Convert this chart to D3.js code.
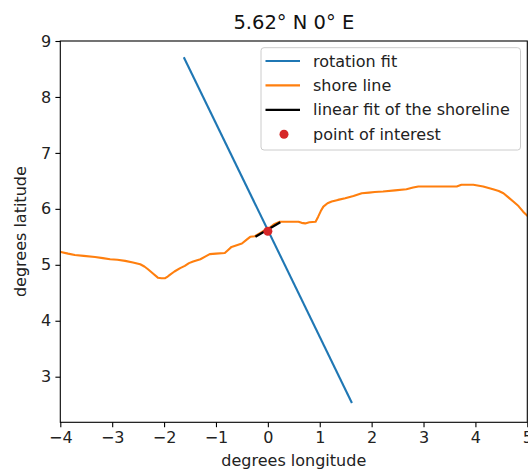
<!DOCTYPE html>
<html>
<head>
<meta charset="utf-8">
<script src="https://cdn.jsdelivr.net/npm/d3@7"></script>
<style>
html,body{margin:0;padding:0;background:#fff;}
svg{display:block;font-family:"DejaVu Sans",sans-serif;}
</style>
</head>
<body>
<svg id="chart" width="528" height="472"></svg>
<script>
// ---- data ----
const titleText = "5.62° N 0° E";
const xTicks = [-4, -3, -2, -1, 0, 1, 2, 3, 4, 5];
const yTicks = [3, 4, 5, 6, 7, 8, 9];
const shoreLon = [-4.05, -3.99, -3.85, -3.72, -3.55, -3.33, -3.18, -3.04, -2.90, -2.75, -2.60, -2.46, -2.38, -2.31, -2.22, -2.12, -2.05, -1.98, -1.93, -1.89, -1.80, -1.69, -1.60, -1.52, -1.44, -1.30, -1.20, -1.12, -1.00, -0.83, -0.76, -0.70, -0.60, -0.50, -0.42, -0.34, -0.25, -0.11, 0.00, 0.13, 0.23, 0.40, 0.59, 0.65, 0.72, 0.80, 0.92, 0.97, 1.02, 1.07, 1.15, 1.23, 1.35, 1.49, 1.65, 1.81, 1.95, 2.06, 2.22, 2.45, 2.67, 2.80, 2.90, 3.20, 3.45, 3.64, 3.73, 3.85, 3.96, 4.15, 4.34, 4.45, 4.54, 4.63, 4.73, 4.83, 4.92, 5.02, 5.10];
const shoreLat = [5.24, 5.23, 5.20, 5.175, 5.16, 5.14, 5.12, 5.10, 5.09, 5.07, 5.04, 5.01, 4.97, 4.92, 4.85, 4.77, 4.76, 4.76, 4.79, 4.82, 4.88, 4.94, 4.98, 5.03, 5.06, 5.10, 5.15, 5.19, 5.20, 5.21, 5.27, 5.32, 5.35, 5.38, 5.44, 5.50, 5.51, 5.59, 5.64, 5.73, 5.77, 5.77, 5.77, 5.75, 5.74, 5.76, 5.77, 5.86, 5.96, 6.04, 6.10, 6.13, 6.16, 6.19, 6.23, 6.28, 6.29, 6.30, 6.31, 6.33, 6.35, 6.38, 6.40, 6.40, 6.40, 6.40, 6.43, 6.43, 6.43, 6.40, 6.35, 6.32, 6.28, 6.21, 6.13, 6.05, 5.95, 5.86, 5.76];
const rotLon = [-1.62, 1.62];
const rotLat = [8.71, 2.53];
const fitLon = [-0.24, 0.24];
const fitLat = [5.50, 5.76];
const poiLon = [0];
const poiLat = [5.60];
const legendLabels = ["rotation fit", "shore line", "linear fit of the shoreline", "point of interest"];
const colors = {rot: "#1f77b4", shore: "#ff7f0e", fit: "#000000", poi: "#d62728"};

// ---- layout ----
const svg = d3.select("#chart");
const L = 60.3, R = 527.3, T = 41, B = 422.3;
const FS = 16, TFS = 19.5;
const x = d3.scaleLinear().domain([-4, 5]).range([L, R]);
const y = d3.scaleLinear().domain([2.185, 9]).range([B, T]);

svg.append("defs").append("clipPath").attr("id", "clip")
  .append("rect").attr("x", L).attr("y", T).attr("width", R - L).attr("height", B - T);

const plot = svg.append("g").attr("clip-path", "url(#clip)");
const line = d3.line().x(d => x(d[0])).y(d => y(d[1]));

plot.append("path").datum(rotLon.map((v, i) => [v, rotLat[i]]))
  .attr("d", line).attr("fill", "none").attr("stroke", colors.rot).attr("stroke-width", 2.1);
plot.append("path").datum(shoreLon.map((v, i) => [v, shoreLat[i]]))
  .attr("d", line).attr("fill", "none").attr("stroke", colors.shore).attr("stroke-width", 2.1)
  .attr("stroke-linejoin", "round");
plot.append("path").datum(fitLon.map((v, i) => [v, fitLat[i]]))
  .attr("d", line).attr("fill", "none").attr("stroke", colors.fit).attr("stroke-width", 2.3);
plot.selectAll("circle.poi").data(poiLon.map((v, i) => [v, poiLat[i]])).join("circle")
  .attr("class", "poi").attr("cx", d => x(d[0])).attr("cy", d => y(d[1])).attr("r", 4.5)
  .attr("fill", colors.poi);

// ---- axes ----
const fmt = d => d3.format("d")(d).replace("-", "\u2212");
const xAxis = svg.append("g").attr("transform", `translate(0,${B})`)
  .call(d3.axisBottom(x).tickValues(xTicks).tickFormat(fmt).tickSize(4.9).tickPadding(4.3));
const yAxis = svg.append("g").attr("transform", `translate(${L},0)`)
  .call(d3.axisLeft(y).tickValues(yTicks).tickFormat(fmt).tickSize(4.9).tickPadding(4.3));
[xAxis, yAxis].forEach(a => {
  a.select(".domain").remove();
  a.selectAll("line").attr("stroke", "#000").attr("stroke-width", 1.1);
  a.selectAll("text").attr("font-size", FS).attr("fill", "#222").attr("font-family", "DejaVu Sans");
});
// spines
svg.append("rect").attr("x", L).attr("y", T).attr("width", R - L).attr("height", B - T)
  .attr("fill", "none").attr("stroke", "#000").attr("stroke-width", 1.1);

// labels
svg.append("text").attr("x", (L + R) / 2).attr("y", 29).attr("text-anchor", "middle")
  .attr("font-size", TFS).attr("fill", "#111").text(titleText);
svg.append("text").attr("x", (L + R) / 2).attr("y", 466).attr("text-anchor", "middle")
  .attr("font-size", FS).attr("fill", "#222").text("degrees longitude");
svg.append("text").attr("transform", `translate(26,${(T + B) / 2}) rotate(-90)`)
  .attr("text-anchor", "middle").attr("font-size", FS).attr("fill", "#222").text("degrees latitude");

// ---- legend ----
const lg = svg.append("g");
lg.append("rect").attr("x", 261).attr("y", 47.7).attr("width", 259.5).attr("height", 102.3)
  .attr("rx", 3).attr("fill", "#fff").attr("fill-opacity", 0.8).attr("stroke", "#ccc").attr("stroke-width", 1);
const rowY = [61, 85.4, 109.8, 134.2];
const kinds = ["rot", "shore", "fit", "poi"];
kinds.forEach((k, i) => {
  if (k === "poi") {
    lg.append("circle").attr("cx", 284).attr("cy", rowY[i]).attr("r", 4.5).attr("fill", colors.poi);
  } else {
    lg.append("line").attr("x1", 265.5).attr("x2", 300).attr("y1", rowY[i]).attr("y2", rowY[i])
      .attr("stroke", colors[k]).attr("stroke-width", k === "fit" ? 2.3 : 2.1);
  }
  lg.append("text").attr("x", 313).attr("y", rowY[i]).attr("dy", "0.35em")
    .attr("font-size", FS).attr("fill", "#222").text(legendLabels[i]);
});
</script>
</body>
</html>
